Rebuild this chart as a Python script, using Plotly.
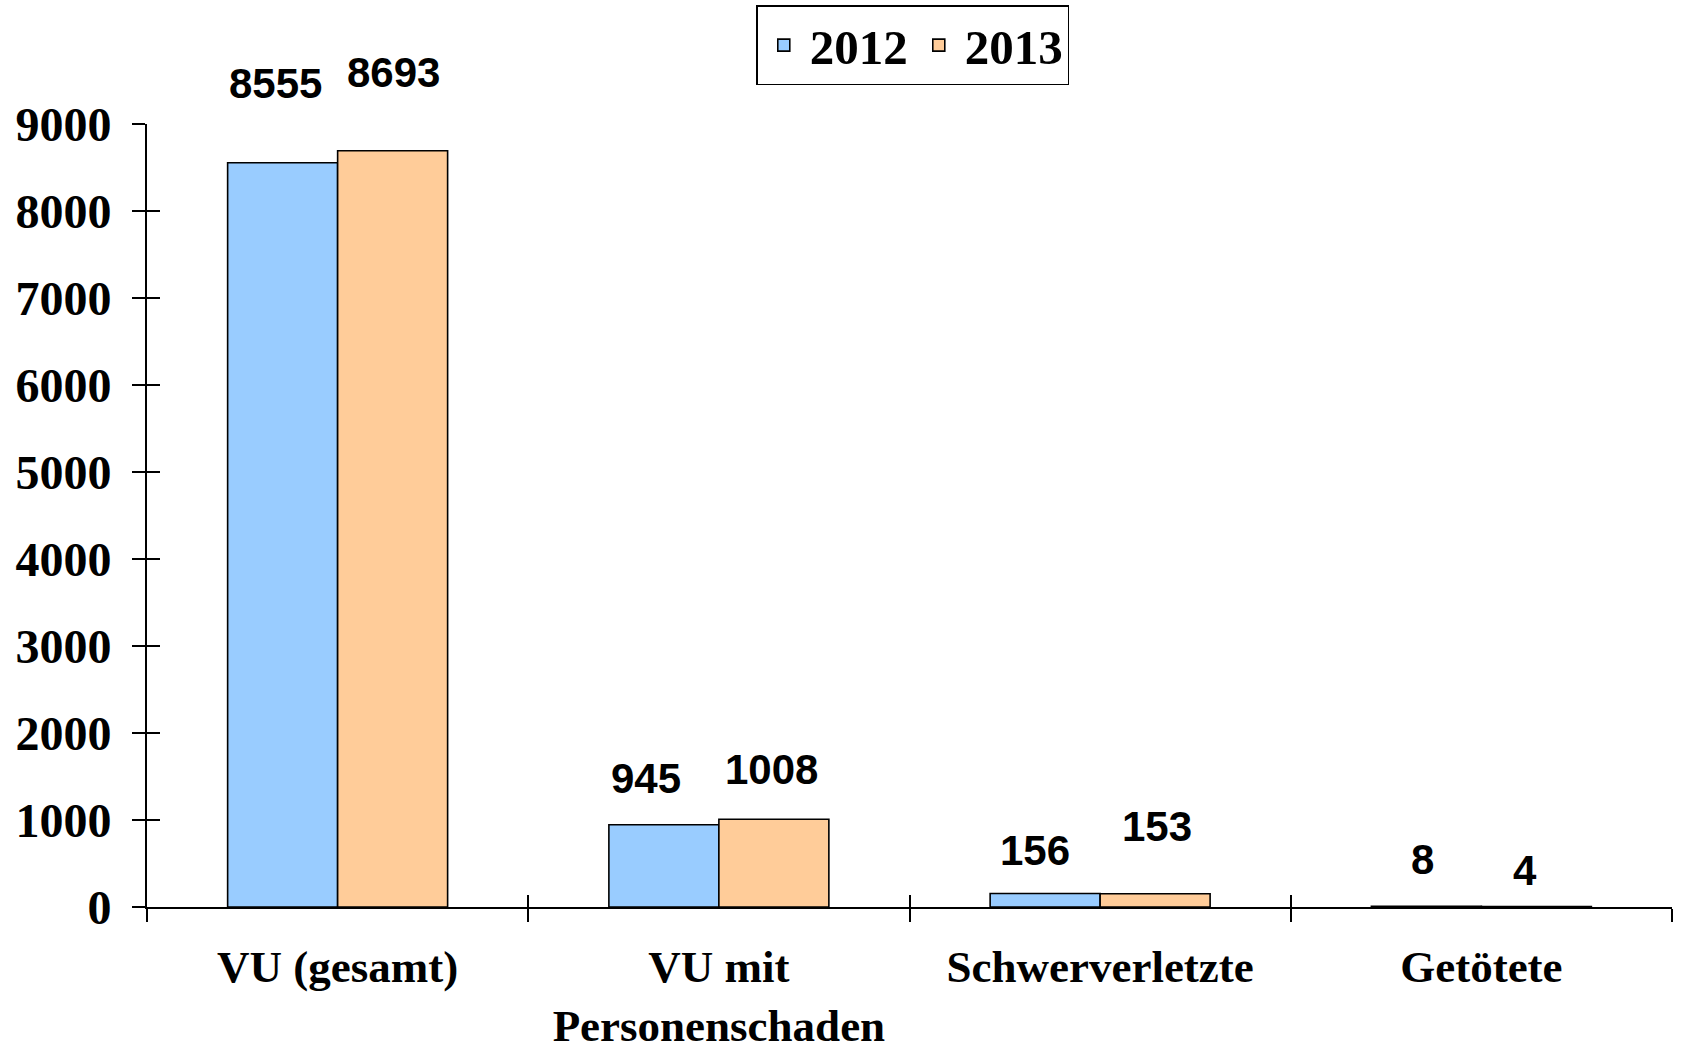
import plotly.graph_objects as go

categories = ["VU (gesamt)", "VU mit<br>Personenschaden", "Schwerverletzte", "Getötete"]
years = ["2012", "2013"]
values_2012 = [8555, 945, 156, 8]
values_2013 = [8693, 1008, 153, 4]
y_ticks = [0, 1000, 2000, 3000, 4000, 5000, 6000, 7000, 8000, 9000]

# label placement tweaks (pixels): vertical lift above bar top, horizontal nudge
label_lift_2012 = [79, 46, 43, 47]
label_lift_2013 = [78, 50, 67, 36]
label_nudge_2012 = [-7, -18, -10, -4]
label_nudge_2013 = [1, -2, 2, -11]

colors = ["#99CCFF", "#FFCC99"]
W, H = 1681, 1052
L, R, T, B = 147, 9, 124, 145
bargap = 0.423

serif_x = dict(family="Liberation Serif, Times New Roman, serif", size=45, color="black", weight="bold")
serif_y = dict(family="Liberation Serif, Times New Roman, serif", size=48, color="black", weight="bold")
serif_leg = dict(family="Liberation Serif, Times New Roman, serif", size=49, color="black", weight="bold")
sans = dict(family="Liberation Sans, Arial, sans-serif", size=42, color="black", weight="bold")

fig = go.Figure()
for name, vals, col in zip(years, [values_2012, values_2013], colors):
    fig.add_trace(go.Bar(
        x=categories, y=vals, name=name,
        marker=dict(color=col, line=dict(color="black", width=1.6)),
    ))
# empty helper trace so the overlay axes (inner half of the cross ticks) are drawn
fig.add_trace(go.Scatter(x=[None], y=[None], xaxis="x2", yaxis="y2",
                         showlegend=False, hoverinfo="skip", mode="markers"))

plot_w = W - L - R
cat_px = plot_w / len(categories)
bar_px = cat_px * (1 - bargap) / 2

annotations = []
for vals, lifts, nudges, sign in [(values_2012, label_lift_2012, label_nudge_2012, -1),
                                  (values_2013, label_lift_2013, label_nudge_2013, 1)]:
    for c, v, lift, nd in zip(categories, vals, lifts, nudges):
        annotations.append(dict(
            x=c, y=v, xref="x", yref="y", text=str(v), showarrow=False,
            xanchor="center", yanchor="middle",
            xshift=sign * bar_px / 2 + nd, yshift=lift, font=sans,
        ))

fig.update_layout(
    width=W, height=H,
    margin=dict(l=L, r=R, t=T, b=B, autoexpand=False),
    paper_bgcolor="white", plot_bgcolor="white",
    barmode="group", bargap=bargap, bargroupgap=0,
    showlegend=True,
    legend=dict(
        orientation="h", xref="container", yref="container",
        x=0.543, xanchor="center", y=0.995, yanchor="top",
        font=serif_leg, bordercolor="black", borderwidth=1.5, bgcolor="white",
        itemwidth=42,
    ),
    xaxis=dict(
        type="category", showline=True, linecolor="black", linewidth=2,
        ticks="outside", ticklen=13, tickwidth=1.6, tickcolor="black",
        tickson="boundaries", tickfont=serif_x, showgrid=False, zeroline=False,
        ticklabelstandoff=19,
    ),
    yaxis=dict(
        range=[0, 9000], tickvals=y_ticks, showline=True, linecolor="black",
        linewidth=2, ticks="outside", ticklen=13, tickwidth=1.6, tickcolor="black",
        tickfont=serif_y, showgrid=False, zeroline=False, ticklabelstandoff=11,
    ),
    xaxis2=dict(
        overlaying="x", anchor="y", range=[-0.5, len(categories) - 0.5],
        tickvals=[i - 0.5 for i in range(len(categories) + 1)],
        ticks="inside", ticklen=12, tickwidth=1.6, tickcolor="black",
        showticklabels=False, showline=False, showgrid=False, zeroline=False,
    ),
    yaxis2=dict(
        overlaying="y", anchor="x", side="left", range=[0, 9000], tickvals=y_ticks,
        ticks="inside", ticklen=13, tickwidth=1.6, tickcolor="black",
        showticklabels=False, showline=False, showgrid=False, zeroline=False,
    ),
    annotations=annotations,
)

fig.write_html("out.html", config={"displayModeBar": False},
               post_script="document.body.style.margin='0';")
